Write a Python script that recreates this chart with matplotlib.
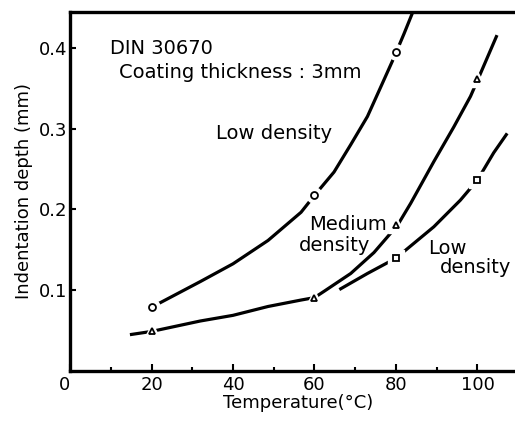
import matplotlib
matplotlib.use("Agg")
import matplotlib.pyplot as plt
from matplotlib.ticker import MultipleLocator

# points (temperature in degC, indentation depth in mm)
low_x = [20, 32, 40, 48.6, 56.7, 60, 64.8, 68.9, 73, 76.3, 79.5, 82, 84]
low_y = [0.078, 0.110, 0.132, 0.161, 0.196, 0.217, 0.246, 0.280, 0.315, 0.352, 0.388, 0.418, 0.443]
low_mx = [20, 60, 80]
low_my = [0.078, 0.217, 0.395]

med_x = [14.7, 20, 32, 40, 48.6, 56.7, 60, 62.4, 68.9, 74.6, 80.4, 83.6, 89.3, 94.2, 98.3, 100.2, 104.8]
med_y = [0.044, 0.048, 0.061, 0.068, 0.079, 0.087, 0.090, 0.098, 0.120, 0.146, 0.180, 0.207, 0.259, 0.302, 0.340, 0.362, 0.416]
med_mx = [20, 60, 80, 100]
med_my = [0.048, 0.090, 0.180, 0.362]

low2_x = [66.1, 73, 80, 89.3, 95.8, 100, 104, 107.3]
low2_y = [0.100, 0.120, 0.139, 0.178, 0.211, 0.236, 0.270, 0.294]
low2_mx = [80, 100]
low2_my = [0.139, 0.236]

xticks = [0, 20, 40, 60, 80, 100]
yticks = [0.1, 0.2, 0.3, 0.4]

plt.rcParams['font.family'] = 'DejaVu Sans'
fig = plt.figure(figsize=(5.15, 4.21), dpi=100)
ax = fig.add_axes([0.136, 0.119, 0.886, 0.853])

lw = 2.3
for xs, ys, mx, my, mk in [(low_x, low_y, low_mx, low_my, 'o'),
                           (med_x, med_y, med_mx, med_my, '^'),
                           (low2_x, low2_y, low2_mx, low2_my, 's')]:
    ax.plot(xs, ys, color='black', lw=lw, solid_capstyle='butt', solid_joinstyle='round', zorder=2)
    # white halo so the line breaks around each symbol
    ax.plot(mx, my, linestyle='none', marker=mk, ms=11, mfc='white', mec='white', zorder=3)
    ax.plot(mx, my, linestyle='none', marker=mk, ms=5, mfc='white', mec='black', mew=1.3, zorder=4)

ax.set_xlim(0.4, 112)
ax.set_ylim(-0.001, 0.445)
ax.set_xticks(xticks)
ax.set_xticklabels([str(t) for t in xticks])
ax.xaxis.set_minor_locator(MultipleLocator(10))
ax.set_yticks(yticks)
ax.set_yticklabels([str(t) for t in yticks])

ax.tick_params(axis='both', which='major', direction='in', width=1.5, labelsize=13, color='black')
ax.tick_params(axis='x', which='major', length=5, pad=4)
ax.tick_params(axis='x', which='minor', direction='in', length=3, width=1.5)
ax.tick_params(axis='y', which='major', length=4, pad=2)
# the "0" sits just left of the y axis in the original
ax.xaxis.get_major_ticks()[0].label1.set_horizontalalignment('right')

for s in ['left', 'bottom', 'top']:
    ax.spines[s].set_linewidth(2.4)
ax.spines['right'].set_visible(False)

ax.set_xlabel('Temperature(°C)', fontsize=13, labelpad=0)
ax.set_ylabel('Indentation depth (mm)', fontsize=13, labelpad=4)

fs = 14
ax.text(9.7, 0.4, 'DIN 30670', fontsize=fs, va='center', ha='left')
ax.text(11.9, 0.37, 'Coating thickness : 3mm', fontsize=fs, va='center', ha='left')
ax.text(35.9, 0.294, 'Low density', fontsize=fs, va='center', ha='left')
ax.text(68.3, 0.181, 'Medium', fontsize=fs, va='center', ha='center')
ax.text(64.9, 0.155, 'density', fontsize=fs, va='center', ha='center')
ax.text(92.6, 0.1516, 'Low', fontsize=fs, va='center', ha='center')
ax.text(99.6, 0.128, 'density', fontsize=fs, va='center', ha='center')

fig.savefig('out.png', dpi=100)
